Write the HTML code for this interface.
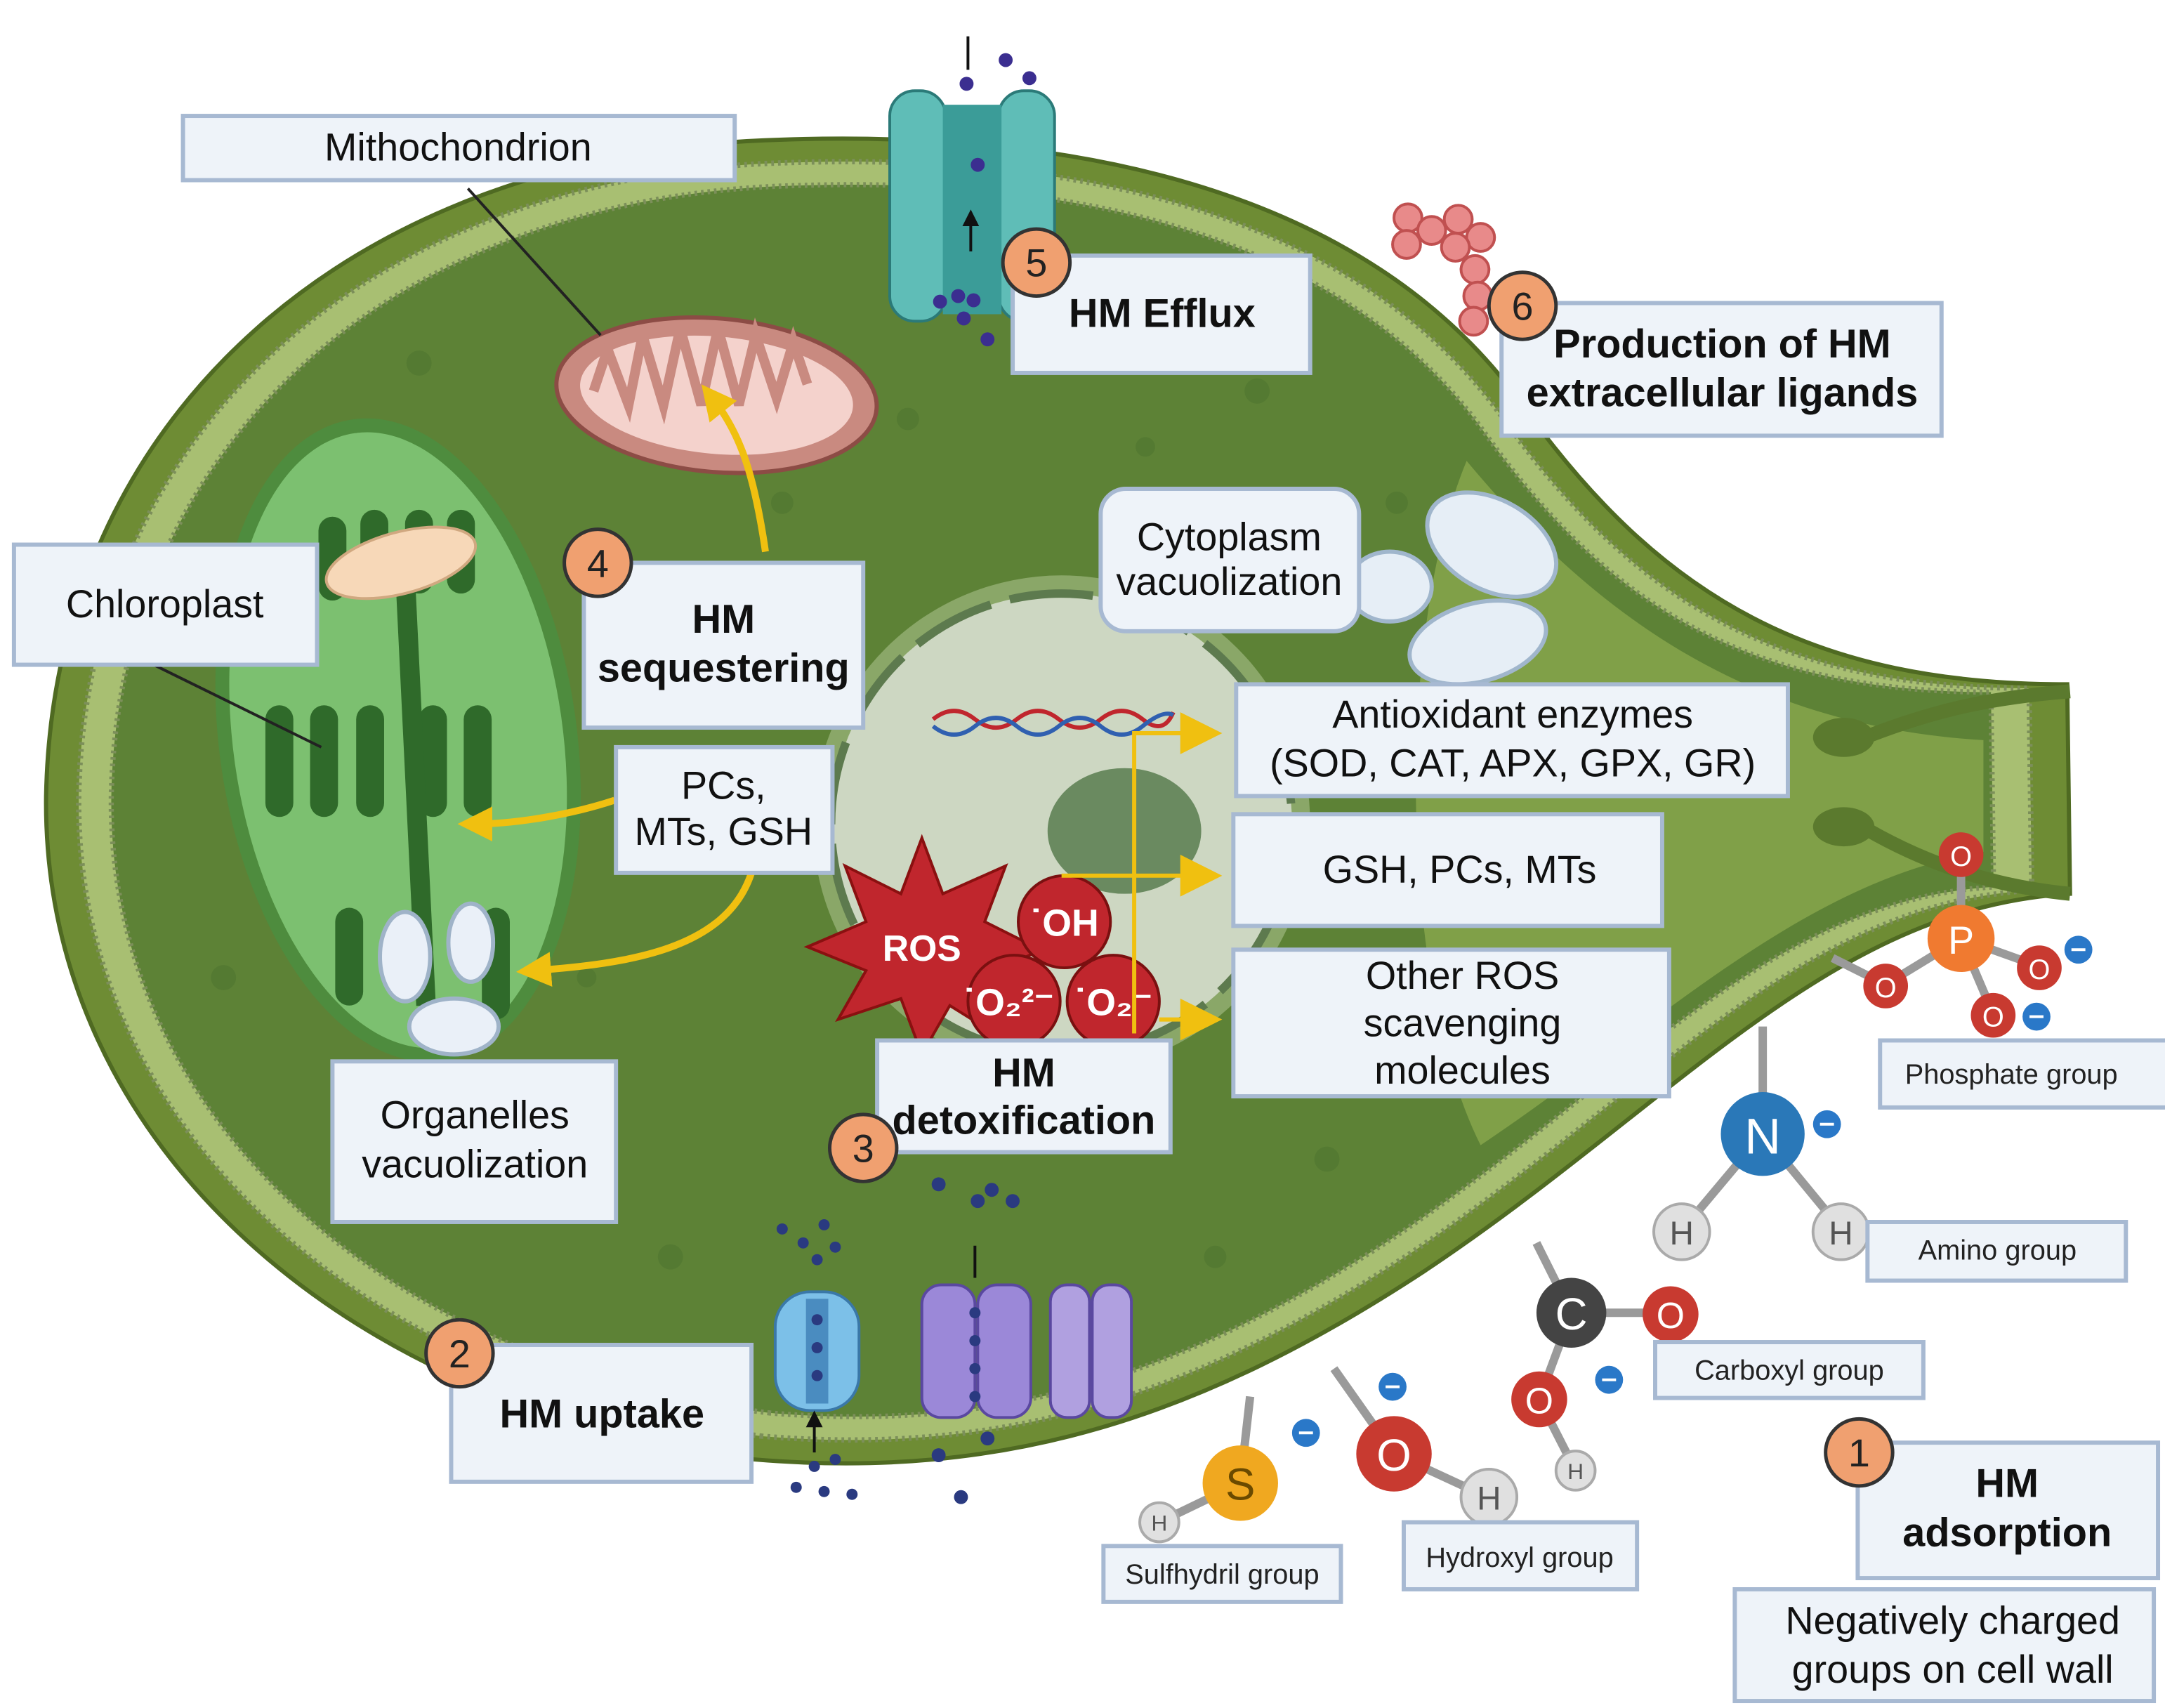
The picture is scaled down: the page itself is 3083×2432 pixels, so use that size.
<!DOCTYPE html>
<html><head><meta charset="utf-8"><style>
html,body{margin:0;padding:0;background:#fff}
svg{display:block}
text{font-family:"Liberation Sans",sans-serif}
</style></head><body>
<svg width="3083" height="2432" viewBox="0 0 1550 1223" preserveAspectRatio="none" xmlns="http://www.w3.org/2000/svg">
<defs>
<marker id="ya" markerWidth="5" markerHeight="5" refX="2.5" refY="2.5" orient="auto"><path d="M0,0 L5,2.5 L0,5 Z" fill="#f0c010"/></marker>
<marker id="ba" markerWidth="6" markerHeight="6" refX="3" refY="3" orient="auto"><path d="M0,0 L6,3 L0,6 Z" fill="#111"/></marker>
</defs>
<rect width="1550" height="1223" fill="#fff"/>
<path d="M540,1045 C250,1010 30,820 33,570 C38,300 250,108 560,100 C800,92 990,150 1090,290 C1190,430 1300,490 1480,490 L1482,640 C1310,650 1200,790 1020,910 C860,1015 720,1060 540,1045 Z" fill="#6e8c34" stroke="#4f6a22" stroke-width="3"/>
<g transform="translate(700,570) scale(0.965) translate(-700,-570)">
<path d="M540,1045 C250,1010 30,820 33,570 C38,300 250,108 560,100 C800,92 990,150 1090,290 C1190,430 1300,490 1480,490 L1482,640 C1310,650 1200,790 1020,910 C860,1015 720,1060 540,1045 Z" fill="#a8bf72" stroke="#7c8f5a" stroke-width="4" stroke-dasharray="2 3"/>
</g>
<g transform="translate(700,570) scale(0.93) translate(-700,-570)">
<path d="M540,1045 C250,1010 30,820 33,570 C38,300 250,108 560,100 C800,92 990,150 1090,290 C1190,430 1300,490 1480,490 L1482,640 C1310,650 1200,790 1020,910 C860,1015 720,1060 540,1045 Z" fill="#5d8236" stroke="#7c8f5a" stroke-width="4" stroke-dasharray="2 3"/>
</g>
<path d="M1050,330 C1150,450 1260,520 1420,530 L1420,610 C1290,630 1180,740 1060,820 C1000,700 1000,450 1050,330 Z" fill="#8aa84e" opacity="0.8"/>
<g fill="#4e7430" opacity="0.6">
<circle cx="300" cy="260" r="9"/><circle cx="650" cy="300" r="8"/><circle cx="900" cy="280" r="9"/><circle cx="1000" cy="360" r="8"/><circle cx="160" cy="700" r="9"/><circle cx="480" cy="900" r="9"/><circle cx="870" cy="900" r="8"/><circle cx="950" cy="830" r="9"/><circle cx="220" cy="600" r="8"/><circle cx="820" cy="320" r="7"/><circle cx="560" cy="360" r="8"/><circle cx="420" cy="700" r="7"/>
</g>
<path d="M1330,530 C1380,510 1420,500 1482,495 M1330,590 C1380,620 1430,635 1482,640" stroke="#5b7a2e" stroke-width="10" fill="none"/>
<ellipse cx="1320" cy="528" rx="22" ry="14" fill="#5b7a2e"/><ellipse cx="1320" cy="592" rx="22" ry="14" fill="#5b7a2e"/>
<circle cx="760" cy="590" r="178" fill="#a8c08a" opacity="0.6"/>
<circle cx="760" cy="590" r="165" fill="#cdd7c2" stroke="#5d7a4e" stroke-width="6" stroke-dasharray="60 14"/>
<ellipse cx="805" cy="595" rx="55" ry="45" fill="#6a8a60"/>
<path d="M668,515 q15,-12 30,0 t30,0 t30,0 t30,0 t30,0 t22,-5" stroke="#c0262d" stroke-width="3" fill="none"/>
<path d="M668,520 q15,12 30,0 t30,0 t30,0 t30,0 t30,0 t22,-8" stroke="#3060b0" stroke-width="3" fill="none"/>
<g fill="#e6eef6" stroke="#a0b6cc" stroke-width="3">
<ellipse cx="1068" cy="390" rx="50" ry="32" transform="rotate(30 1068 390)"/>
<ellipse cx="1058" cy="460" rx="50" ry="28" transform="rotate(-15 1058 460)"/>
<ellipse cx="995" cy="420" rx="30" ry="25"/>
</g>
<ellipse cx="285" cy="530" rx="128" ry="232" transform="rotate(-8 285 530)" fill="#4e8c3e"/>
<ellipse cx="285" cy="530" rx="118" ry="222" transform="rotate(-8 285 530)" fill="#7cc070"/>
<g fill="#2f6a2a">
<rect x="228" y="370" width="20" height="60" rx="10"/><rect x="258" y="365" width="20" height="60" rx="10"/><rect x="290" y="365" width="20" height="60" rx="10"/><rect x="320" y="365" width="20" height="60" rx="10"/>
<rect x="190" y="505" width="20" height="80" rx="10"/><rect x="222" y="505" width="20" height="80" rx="10"/><rect x="255" y="505" width="20" height="80" rx="10"/><rect x="300" y="505" width="20" height="80" rx="10"/><rect x="332" y="505" width="20" height="80" rx="10"/>
<rect x="345" y="650" width="20" height="80" rx="10"/><rect x="240" y="650" width="20" height="70" rx="10"/>
<path d="M290,410 L305,720" stroke="#2f6a2a" stroke-width="14"/>
</g>
<ellipse cx="287" cy="403" rx="55" ry="22" transform="rotate(-15 287 403)" fill="#f7d8b8" stroke="#d0a880" stroke-width="2"/>
<g fill="#eaf0f8" stroke="#9fb3c8" stroke-width="3">
<ellipse cx="290" cy="685" rx="18" ry="32"/><ellipse cx="337" cy="675" rx="16" ry="28"/><ellipse cx="325" cy="735" rx="32" ry="20"/>
</g>
<ellipse cx="513" cy="283" rx="115" ry="55" transform="rotate(5 513 283)" fill="#c98a80" stroke="#8c4c45" stroke-width="3"/>
<ellipse cx="513" cy="283" rx="98" ry="42" transform="rotate(5 513 283)" fill="#f4d2cc"/>
<path d="M425,280 l10,-30 l15,40 l10,-50 l15,50 l12,-55 l15,55 l12,-55 l15,55 l12,-50 l15,45 l12,-40 l10,30" stroke="#c98a80" stroke-width="7" fill="none"/>
<line x1="335" y1="135" x2="430" y2="240" stroke="#222" stroke-width="2"/>
<line x1="110" y1="476" x2="230" y2="535" stroke="#222" stroke-width="2"/>
<rect x="637" y="65" width="40" height="165" rx="18" fill="#5fbdb7" stroke="#2b7a78" stroke-width="2"/>
<rect x="715" y="65" width="40" height="165" rx="18" fill="#5fbdb7" stroke="#2b7a78" stroke-width="2"/>
<rect x="675" y="75" width="42" height="150" fill="#3b9c98"/>
<g fill="#3b2e90"><circle cx="700" cy="118" r="5"/><circle cx="692" cy="60" r="5"/><circle cx="720" cy="43" r="5"/><circle cx="737" cy="56" r="5"/><circle cx="673" cy="216" r="5"/><circle cx="686" cy="212" r="5"/><circle cx="697" cy="215" r="5"/><circle cx="690" cy="228" r="5"/><circle cx="707" cy="243" r="5"/></g>
<path d="M693,50 L693,26 M695,180 L695,156" stroke="#111" stroke-width="2" marker-end="url(#ba)"/>
<g fill="#e88a8a" stroke="#c05050" stroke-width="2">
<circle cx="1008" cy="156" r="10"/><circle cx="1025" cy="165" r="10"/><circle cx="1044" cy="157" r="10"/><circle cx="1060" cy="170" r="10"/><circle cx="1007" cy="175" r="10"/><circle cx="1042" cy="177" r="10"/><circle cx="1056" cy="193" r="10"/><circle cx="1058" cy="212" r="10"/><circle cx="1055" cy="230" r="10"/>
</g>
<rect x="555" y="925" width="60" height="85" rx="25" fill="#7cc0e8" stroke="#3a78a8" stroke-width="2"/>
<rect x="577" y="930" width="16" height="75" fill="#4a8cc0"/>
<rect x="660" y="920" width="38" height="95" rx="14" fill="#9b88d8" stroke="#5a48a0" stroke-width="2"/>
<rect x="700" y="920" width="38" height="95" rx="14" fill="#9b88d8" stroke="#5a48a0" stroke-width="2"/>
<rect x="752" y="920" width="28" height="95" rx="12" fill="#b0a0e0" stroke="#5a48a0" stroke-width="2"/>
<rect x="782" y="920" width="28" height="95" rx="12" fill="#b0a0e0" stroke="#5a48a0" stroke-width="2"/>
<g fill="#2a3a80"><circle cx="585" cy="945" r="4"/><circle cx="585" cy="965" r="4"/><circle cx="585" cy="985" r="4"/><circle cx="698" cy="940" r="4"/><circle cx="698" cy="960" r="4"/><circle cx="698" cy="980" r="4"/><circle cx="698" cy="1000" r="4"/>
<circle cx="560" cy="880" r="4"/><circle cx="575" cy="890" r="4"/><circle cx="590" cy="877" r="4"/><circle cx="598" cy="893" r="4"/><circle cx="585" cy="902" r="4"/><circle cx="583" cy="1050" r="4"/><circle cx="598" cy="1045" r="4"/><circle cx="570" cy="1065" r="4"/><circle cx="590" cy="1068" r="4"/><circle cx="610" cy="1070" r="4"/>
<circle cx="672" cy="848" r="5"/><circle cx="700" cy="860" r="5"/><circle cx="710" cy="852" r="5"/><circle cx="725" cy="860" r="5"/><circle cx="707" cy="1030" r="5"/><circle cx="672" cy="1042" r="5"/><circle cx="688" cy="1072" r="5"/></g>
<path d="M698,915 L698,892 M583,1040 L583,1016" stroke="#111" stroke-width="2" marker-end="url(#ba)"/>
<polygon points="660,600 675,640 720,620 705,660 745,680 705,700 720,745 680,720 660,755 645,715 600,730 620,695 578,678 620,660 605,620 645,640" fill="#c0262d" stroke="#8a1010" stroke-width="2"/>
<text x="660" y="688" font-size="26" font-weight="bold" fill="#fff" text-anchor="middle">ROS</text>
<g fill="#c0262d" stroke="#7a1010" stroke-width="2"><circle cx="762" cy="660" r="33"/><circle cx="726" cy="717" r="33"/><circle cx="797" cy="717" r="33"/></g>
<g fill="#fff" font-size="27" font-weight="bold" text-anchor="middle"><text x="762" y="670">˙OH</text><text x="722" y="727">˙O₂²⁻</text><text x="797" y="727">˙O₂⁻</text></g>
<g stroke="#f0c010" stroke-width="5" fill="none">
<path d="M548,395 C540,340 530,310 510,285" marker-end="url(#ya)"/>
<path d="M440,573 C410,583 370,590 340,590" marker-end="url(#ya)"/>
<path d="M538,625 C520,680 450,690 382,695" marker-end="url(#ya)"/>
</g>
<g stroke="#f0c010" stroke-width="3" fill="none">
<path d="M812,740 L812,525 L850,525"/>
<path d="M760,627 L850,627"/>
<path d="M830,730 L850,730"/>
</g>
<g fill="#f0c010"><path d="M845,510 L875,525 L845,540 Z"/><path d="M845,612 L875,627 L845,642 Z"/><path d="M845,715 L875,730 L845,745 Z"/></g>
<g stroke="#9a9a9a" stroke-width="6">
<line x1="1262" y1="812" x2="1262" y2="735"/><line x1="1262" y1="812" x2="1205" y2="880"/><line x1="1262" y1="812" x2="1318" y2="880"/>
<line x1="1404" y1="672" x2="1404" y2="612"/><line x1="1404" y1="672" x2="1350" y2="705"/><line x1="1404" y1="672" x2="1460" y2="692"/><line x1="1404" y1="672" x2="1427" y2="726"/><line x1="1350" y1="705" x2="1312" y2="686"/>
<line x1="1125" y1="940" x2="1100" y2="890"/><line x1="1125" y1="940" x2="1195" y2="940"/><line x1="1125" y1="940" x2="1102" y2="1002"/><line x1="1102" y1="1002" x2="1128" y2="1053"/>
<line x1="888" y1="1062" x2="895" y2="1000"/><line x1="888" y1="1062" x2="830" y2="1090"/>
<line x1="998" y1="1041" x2="955" y2="980"/><line x1="998" y1="1041" x2="1065" y2="1072"/>
</g>
<circle cx="1262" cy="812" r="30" fill="#2a78b8"/><text x="1262" y="826" font-size="36" fill="#fff" text-anchor="middle">N</text>
<g fill="#e0e0e0" stroke="#aaa" stroke-width="2"><circle cx="1204" cy="882" r="20"/><circle cx="1318" cy="882" r="20"/><circle cx="1066" cy="1072" r="20"/><circle cx="1128" cy="1053" r="14"/><circle cx="830" cy="1090" r="14"/></g>
<g font-size="24" fill="#555" text-anchor="middle"><text x="1204" y="891">H</text><text x="1318" y="891">H</text><text x="1066" y="1081">H</text><text x="1128" y="1059" font-size="16">H</text><text x="830" y="1096" font-size="16">H</text></g>
<circle cx="1404" cy="672" r="24" fill="#f07a30"/><text x="1404" y="683" font-size="28" fill="#fff" text-anchor="middle">P</text>
<g fill="#c83a30"><circle cx="1404" cy="612" r="16"/><circle cx="1350" cy="706" r="16"/><circle cx="1460" cy="693" r="16"/><circle cx="1427" cy="727" r="16"/><circle cx="1196" cy="941" r="20"/><circle cx="1102" cy="1002" r="20"/><circle cx="998" cy="1041" r="27"/></g>
<g fill="#fff" text-anchor="middle"><text x="1404" y="620" font-size="20">O</text><text x="1350" y="714" font-size="20">O</text><text x="1460" y="701" font-size="20">O</text><text x="1427" y="735" font-size="20">O</text><text x="1196" y="951" font-size="26">O</text><text x="1102" y="1012" font-size="26">O</text><text x="998" y="1053" font-size="32">O</text></g>
<circle cx="1125" cy="940" r="25" fill="#444"/><text x="1125" y="952" font-size="32" fill="#fff" text-anchor="middle">C</text>
<circle cx="888" cy="1062" r="27" fill="#f0a820"/><text x="888" y="1074" font-size="32" fill="#6a4a00" text-anchor="middle">S</text>
<g fill="#2a78c8"><circle cx="1488" cy="680" r="10"/><circle cx="1458" cy="728" r="10"/><circle cx="1308" cy="805" r="10"/><circle cx="1152" cy="988" r="10"/><circle cx="997" cy="993" r="10"/><circle cx="935" cy="1026" r="10"/></g>
<g stroke="#fff" stroke-width="2"><line x1="1483" y1="680" x2="1493" y2="680"/><line x1="1453" y1="728" x2="1463" y2="728"/><line x1="1303" y1="805" x2="1313" y2="805"/><line x1="1147" y1="988" x2="1157" y2="988"/><line x1="992" y1="993" x2="1002" y2="993"/><line x1="930" y1="1026" x2="940" y2="1026"/></g>
<g fill="#eef3f9" stroke="#a7b9d2" stroke-width="3">
<rect x="131" y="83" width="395" height="46"/>
<rect x="10" y="390" width="217" height="86"/>
<rect x="418" y="403" width="200" height="118"/>
<rect x="441" y="535" width="155" height="90"/>
<rect x="788" y="350" width="185" height="102" rx="18"/>
<rect x="725" y="183" width="213" height="84"/>
<rect x="1075" y="217" width="315" height="95"/>
<rect x="885" y="490" width="395" height="80"/>
<rect x="883" y="583" width="307" height="80"/>
<rect x="883" y="680" width="312" height="105"/>
<rect x="628" y="745" width="210" height="80"/>
<rect x="238" y="760" width="203" height="115"/>
<rect x="323" y="963" width="215" height="98"/>
<rect x="1330" y="1033" width="215" height="97"/>
<rect x="1242" y="1138" width="300" height="80"/>
<rect x="1346" y="745" width="216" height="48"/>
<rect x="1337" y="875" width="185" height="42"/>
<rect x="1185" y="961" width="192" height="40"/>
<rect x="1005" y="1090" width="167" height="48"/>
<rect x="790" y="1107" width="170" height="40"/>
</g>
<g font-size="28" fill="#111" text-anchor="middle">
<text x="328" y="115">Mithochondrion</text>
<text x="118" y="442">Chloroplast</text>
<text x="518" y="572">PCs,</text><text x="518" y="605">MTs, GSH</text>
<text x="880" y="394">Cytoplasm</text><text x="880" y="426">vacuolization</text>
<text x="1083" y="521">Antioxidant enzymes</text><text x="1083" y="556">(SOD, CAT, APX, GPX, GR)</text>
<text x="1045" y="632">GSH, PCs, MTs</text>
<text x="1047" y="708">Other ROS</text><text x="1047" y="742">scavenging</text><text x="1047" y="776">molecules</text>
<text x="340" y="808">Organelles</text><text x="340" y="843">vacuolization</text>
<text x="1398" y="1170">Negatively charged</text><text x="1398" y="1205">groups on cell wall</text>
</g>
<g font-size="29" font-weight="bold" fill="#111" text-anchor="middle">
<text x="518" y="453">HM</text><text x="518" y="488">sequestering</text>
<text x="832" y="234">HM Efflux</text>
<text x="1233" y="256">Production of HM</text><text x="1233" y="291">extracellular ligands</text>
<text x="733" y="778">HM</text><text x="733" y="812">detoxification</text>
<text x="431" y="1022">HM uptake</text>
<text x="1437" y="1072">HM</text><text x="1437" y="1107">adsorption</text>
</g>
<g font-size="20" fill="#222" text-anchor="middle">
<text x="1440" y="776">Phosphate group</text>
<text x="1430" y="902">Amino group</text>
<text x="1281" y="988">Carboxyl group</text>
<text x="1088" y="1122">Hydroxyl group</text>
<text x="875" y="1134">Sulfhydril group</text>
</g>
<g fill="#f0a070" stroke="#333" stroke-width="2.5">
<circle cx="1331" cy="1040" r="24"/><circle cx="329" cy="969" r="24"/><circle cx="618" cy="822" r="24"/><circle cx="428" cy="403" r="24"/><circle cx="742" cy="188" r="24"/><circle cx="1090" cy="219" r="24"/>
</g>
<g font-size="28" fill="#222" text-anchor="middle">
<text x="1331" y="1050">1</text><text x="329" y="979">2</text><text x="618" y="832">3</text><text x="428" y="413">4</text><text x="742" y="198">5</text><text x="1090" y="229">6</text>
</g>
</svg>
</body></html>
